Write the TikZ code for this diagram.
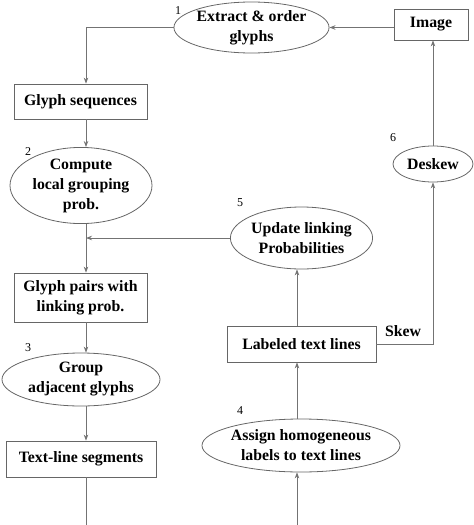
\documentclass[tikz,border=0pt]{standalone}
\usepackage{fontspec}
\setmainfont{Liberation Serif}[BoldFont={Liberation Serif Bold}]
\usetikzlibrary{shapes.geometric,arrows.meta}
\begin{document}
\begin{tikzpicture}[x=1pt,y=-1pt,
 every node/.style={font=\fontsize{15.8}{20}\selectfont\bfseries, align=center, inner sep=0pt},
 box/.style={draw=black!60, line width=0.8pt, rectangle},
 ell/.style={draw=black!60, line width=0.8pt, ellipse},
 num/.style={font=\fontsize{12}{14}\selectfont},
 conn/.style={draw=black!55, line width=0.8pt, -{Stealth[length=6pt,width=4.5pt]}},
 plain/.style={draw=black!55, line width=0.8pt}]
\useasboundingbox (0,0) rectangle (474,525);
% nodes
\node[ell, minimum width=131, minimum height=51] (ext) at (251.5,27.5) {Extract \& order\\glyphs};
\node[box, minimum width=74, minimum height=31] (img) at (431,24.5) {Image};
\node[box, minimum width=133, minimum height=35] (gs) at (80.5,101.5) {Glyph sequences};
\node[ell, minimum width=142, minimum height=63] (cmp) at (81,185.5) {Compute\\local grouping\\prob.};
\node[ell, minimum width=133, minimum height=62] (upd) at (301.5,238) {Update linking\\Probabilities};
\node[box, minimum width=133, minimum height=49] (gp) at (80.5,297.5) {Glyph pairs with\\linking prob.};
\node[box, minimum width=149, minimum height=36] (lab) at (301.5,344) {Labeled text lines};
\node[ell, minimum width=80, minimum height=36] (dsk) at (433,164) {Deskew};
\node[ell, minimum width=158, minimum height=53] (grp) at (81,379.5) {Group\\adjacent glyphs};
\node[box, minimum width=150, minimum height=36] (tls) at (81,459) {Text-line segments};
\node[ell, minimum width=186, minimum height=53] (asg) at (301,445.5) {Assign homogeneous\\labels to text lines};
\node (skew) at (403,331) {Skew};
% step numbers
\node[num] (n1) at (178,11) {1};
\node[num] (n2) at (28,152) {2};
\node[num] (n3) at (28,348) {3};
\node[num] (n4) at (240,411) {4};
\node[num] (n5) at (240,203) {5};
\node[num] (n6) at (393,138) {6};
% helper coordinates
\coordinate (lx) at (86,0);
\coordinate (rx) at (433,0);
\coordinate (mx) at (297,0);
\coordinate (bl) at (86,526);
\coordinate (br) at (297,526);
% connectors
\draw[conn] (img.west |- ext.east) -- (ext.east);
\draw[conn] (ext.west) -| (gs.north -| lx);
\draw[conn] (gs.south -| lx) -- (cmp.north -| lx);
\draw[conn] (cmp.south -| lx) -- (gp.north -| lx);
\draw[conn] (upd.west) -- (upd.west -| lx);
\draw[conn] (gp.south -| lx) -- (grp.north -| lx);
\draw[conn] (grp.south -| lx) -- (tls.north -| lx);
\draw[plain] (tls.south -| lx) -- (bl);
\draw[conn] (br) -- (asg.south -| mx);
\draw[conn] (asg.north -| mx) -- (lab.south -| mx);
\draw[conn] (lab.north -| mx) -- (upd.south -| mx);
\draw[conn] (lab.east) -| (dsk.south -| rx);
\draw[conn] (dsk.north -| rx) -- (img.south -| rx);
\end{tikzpicture}
\end{document}
